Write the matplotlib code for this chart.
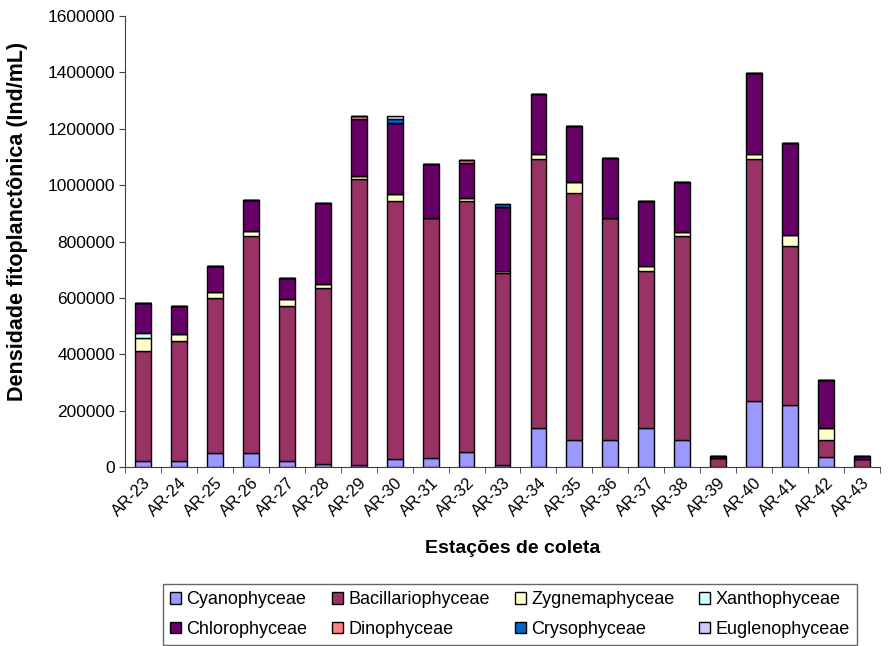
import matplotlib.pyplot as plt
import numpy as np

plt.rcParams['font.family'] = ['Liberation Sans', 'DejaVu Sans']

estacoes = ['AR-23', 'AR-24', 'AR-25', 'AR-26', 'AR-27', 'AR-28', 'AR-29',
            'AR-30', 'AR-31', 'AR-32', 'AR-33', 'AR-34', 'AR-35', 'AR-36',
            'AR-37', 'AR-38', 'AR-39', 'AR-40', 'AR-41', 'AR-42', 'AR-43']

# densidade por classe (Ind/mL)
cyanophyceae = [22000, 22000, 49000, 50000, 22000, 9000, 8000, 28000, 31000, 54000, 8000,
                137000, 96000, 96000, 138000, 96000, 0, 235000, 220000, 34000, 0]
bacillariophyceae = [389000, 425000, 550000, 771000, 549000, 625000, 1014000, 916000, 851000,
                     890000, 679000, 957000, 875000, 786000, 559000, 725000, 32000, 859000,
                     564000, 62000, 27000]
zygnemaphyceae = [46000, 26000, 23000, 16000, 26000, 15000, 12000, 25000, 0, 9000, 10000,
                  16000, 41000, 0, 15000, 14000, 0, 16000, 38000, 41000, 0]
xanthophyceae = [17000, 0, 0, 0, 0, 0, 0, 0, 0, 0, 0,
                 0, 0, 0, 0, 0, 0, 0, 0, 0, 0]
chlorophyceae = [109000, 99000, 91000, 110000, 73000, 287000, 201000, 253000, 193000, 126000,
                 227000, 213000, 198000, 213000, 233000, 177000, 7000, 287000, 326000, 172000,
                 12000]
dinophyceae = [0, 0, 0, 0, 0, 0, 11000, 0, 0, 10000, 0,
               0, 0, 0, 0, 0, 0, 0, 0, 0, 0]
crysophyceae = [0, 0, 0, 0, 0, 0, 0, 13000, 0, 0, 10000,
                0, 0, 0, 0, 0, 0, 0, 0, 0, 0]
euglenophyceae = [0, 0, 0, 0, 0, 0, 0, 11000, 0, 0, 0,
                  0, 0, 0, 0, 0, 0, 0, 0, 0, 0]

classes = [
    ('Cyanophyceae', cyanophyceae, '#9999FF'),
    ('Bacillariophyceae', bacillariophyceae, '#993366'),
    ('Zygnemaphyceae', zygnemaphyceae, '#FFFFCC'),
    ('Xanthophyceae', xanthophyceae, '#CCFFFF'),
    ('Chlorophyceae', chlorophyceae, '#660066'),
    ('Dinophyceae', dinophyceae, '#FF8080'),
    ('Crysophyceae', crysophyceae, '#0066CC'),
    ('Euglenophyceae', euglenophyceae, '#CCCCFF'),
]

fig = plt.figure(figsize=(8.91, 6.46), dpi=100)
ax = fig.add_axes([125 / 891, 1 - 467 / 646, 755 / 891, 451 / 646])

x = np.arange(len(estacoes))
base = np.zeros(len(estacoes))
handles = {}
for nome, valores, cor in classes:
    v = np.array(valores, dtype=float)
    b = ax.bar(x, v, 0.44, bottom=base, color=cor, edgecolor='black',
               linewidth=1.0, label=nome)
    handles[nome] = b
    base += v

ax.set_xlim(-0.5, len(estacoes) - 0.5)
ax.set_ylim(0, 1600000)
ax.set_yticks(np.arange(0, 1600001, 200000))
ax.set_yticklabels([str(v) for v in range(0, 1600001, 200000)], fontsize=12.5)
ax.set_xticks(x)
ax.set_xticklabels(estacoes, rotation=45, ha='right', rotation_mode='anchor', fontsize=12)
ax.set_xticks(np.arange(-0.5, len(estacoes), 1), minor=True)
ax.tick_params(axis='x', which='major', length=0, pad=6)
ax.tick_params(axis='x', which='minor', length=4, direction='out', color='#404040')
ax.tick_params(axis='y', length=4, direction='out', color='#404040', pad=3)

for s in ['top', 'right']:
    ax.spines[s].set_visible(False)
for s in ['left', 'bottom']:
    ax.spines[s].set_color('#404040')

ax.set_ylabel('Densidade fitoplanctônica (Ind/mL)', fontsize=15.5, fontweight='bold')
ax.yaxis.set_label_coords(-0.128, 0.544)
ax.set_xlabel('Estações de coleta', fontsize=14, fontweight='bold')
ax.xaxis.set_label_coords(0.513, -0.162)

# legenda em 4 colunas, preenchida por linhas
ordem = ['Cyanophyceae', 'Chlorophyceae', 'Bacillariophyceae', 'Dinophyceae',
         'Zygnemaphyceae', 'Crysophyceae', 'Xanthophyceae', 'Euglenophyceae']
leg = fig.legend([handles[n] for n in ordem], ordem, ncol=4,
                 loc='lower left', bbox_to_anchor=(163 / 891, 1 / 646, 694 / 891, 62 / 646),
                 mode='expand', fontsize=13, frameon=True, fancybox=False,
                 edgecolor='#404040', handlelength=0.6, handleheight=0.6,
                 handletextpad=0.3, columnspacing=0.5, borderpad=0.4, labelspacing=0.7,
                 borderaxespad=0)
leg.get_frame().set_linewidth(1.0)

fig.savefig('out.png', dpi=100)
